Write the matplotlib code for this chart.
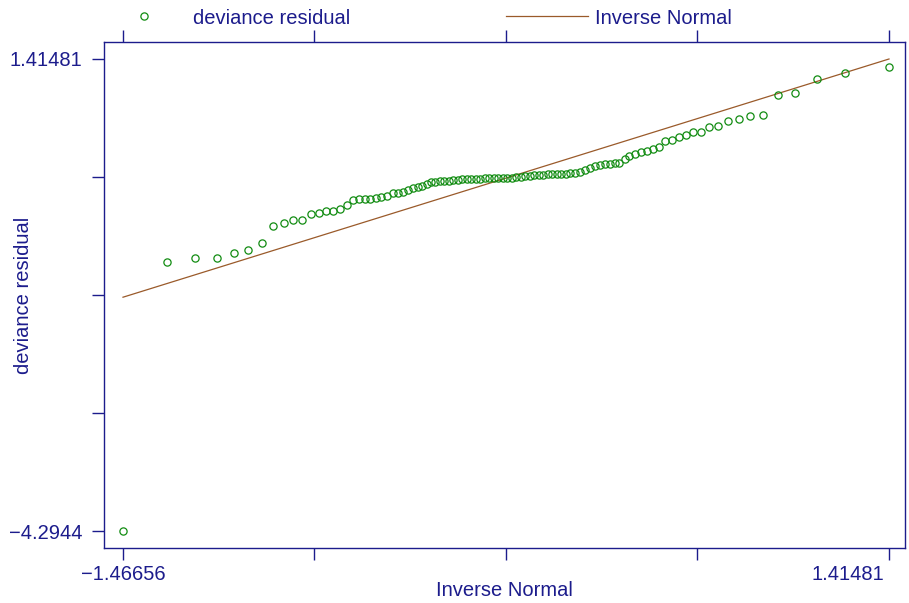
import matplotlib
matplotlib.use("Agg")
import matplotlib.pyplot as plt
from matplotlib import transforms

plt.rcParams['font.family'] = ['Liberation Sans', 'DejaVu Sans']

# Inverse normal quantiles (x) and sorted deviance residuals (y)
inv_normal = [
    -1.4666, -1.3011, -1.1946, -1.1141, -1.0490, -0.9945, -0.9448, -0.9016, -0.8621, -0.8252,
    -0.7921, -0.7605, -0.7304, -0.7022, -0.6759, -0.6503, -0.6251, -0.6014, -0.5789, -0.5563,
    -0.5356, -0.5149, -0.4942, -0.4735, -0.4521, -0.4322, -0.4134, -0.3934, -0.3757, -0.3577,
    -0.3408, -0.3239, -0.3081, -0.2911, -0.2742, -0.2573, -0.2404, -0.2234, -0.2065, -0.1896,
    -0.1726, -0.1557, -0.1388, -0.1219, -0.1049, -0.0880, -0.0711, -0.0541, -0.0372, -0.0203,
    -0.0034, 0.0136, 0.0305, 0.0474, 0.0644, 0.0813, 0.0982, 0.1152, 0.1321, 0.1490,
    0.1659, 0.1829, 0.1998, 0.2167, 0.2336, 0.2524, 0.2712, 0.2900, 0.3089, 0.3288,
    0.3476, 0.3653, 0.3830, 0.4003, 0.4206, 0.4379, 0.4593, 0.4807, 0.5033, 0.5259,
    0.5485, 0.5733, 0.5974, 0.6248, 0.6512, 0.6786, 0.7076, 0.7388, 0.7727, 0.8099,
    0.8494, 0.8927, 0.9419, 0.9983, 1.0612, 1.1428, 1.2493, 1.4148,
]
deviance_residual = [
    -4.2944, -1.0443, -0.9923, -0.9863, -0.9282, -0.8955, -0.8145, -0.6089, -0.5714, -0.5351,
    -0.5302, -0.4601, -0.4516, -0.4298, -0.4238, -0.4020, -0.3512, -0.2907, -0.2786, -0.2786,
    -0.2726, -0.2665, -0.2581, -0.2387, -0.2085, -0.2024, -0.1915, -0.1698, -0.1516, -0.1371,
    -0.1250, -0.0972, -0.0730, -0.0670, -0.0633, -0.0585, -0.0573, -0.0512, -0.0440, -0.0416,
    -0.0403, -0.0367, -0.0343, -0.0319, -0.0295, -0.0282, -0.0282, -0.0258, -0.0246, -0.0222,
    -0.0186, -0.0149, -0.0089, -0.0053, 0.0020, 0.0068, 0.0117, 0.0153, 0.0189, 0.0225,
    0.0238, 0.0238, 0.0274, 0.0322, 0.0359, 0.0480, 0.0721, 0.0927, 0.1169, 0.1290,
    0.1411, 0.1447, 0.1532, 0.1604, 0.2016, 0.2415, 0.2621, 0.2862, 0.3056, 0.3298,
    0.3540, 0.4229, 0.4350, 0.4713, 0.4895, 0.5282, 0.5282, 0.5886, 0.6068, 0.6673,
    0.6866, 0.7290, 0.7350, 0.9733, 0.9975, 1.1693, 1.2491, 1.3120,
]
line_x = [-1.46656, 1.41481]
line_y = [-1.46656, 1.41481]

x_ticks = [-1.46656, -0.74622, -0.02588, 0.69447, 1.41481]
x_ticklabels = ['\u22121.46656', '', '', '', '1.41481']
y_ticks = [-4.2944, -2.8671, -1.4398, -0.0125, 1.41481]
y_ticklabels = ['\u22124.2944', '', '', '', '1.41481']

navy = '#1c1c8c'
green = '#128c12'
brown = '#9a5a2a'
fs = 14.5

fig = plt.figure(figsize=(9.09, 6.03), dpi=100)
ax = fig.add_axes([104/909, 1-548/603, (905-104)/909, (548-42)/603])

sc, = ax.plot(inv_normal, deviance_residual, linestyle='none', marker='o', markersize=5.2,
              markerfacecolor='none', markeredgecolor=green, markeredgewidth=0.9,
              label='deviance residual', zorder=3)
ln, = ax.plot(line_x, line_y, color=brown, linewidth=0.9, label='Inverse Normal', zorder=2)

ax.set_xlim(-1.5380, 1.4750)
ax.set_ylim(-4.5000, 1.6204)

ax.set_xticks(x_ticks)
ax.set_xticklabels(x_ticklabels)
ax.set_yticks(y_ticks)
ax.set_yticklabels(y_ticklabels)

for s in ax.spines.values():
    s.set_color(navy)
    s.set_linewidth(1.0)

ax.tick_params(axis='x', which='both', direction='out', length=8.5, width=1.0, color=navy,
               labelcolor=navy, labelsize=fs, top=True, labeltop=False, pad=4)
ax.tick_params(axis='y', which='both', direction='out', length=8.5, width=1.0, color=navy,
               labelcolor=navy, labelsize=fs, right=False, pad=7)

# shift the right-most x tick label so it stays inside the figure
lbls = ax.get_xticklabels()
lbls[-1].set_horizontalalignment('right')
lbls[-1].set_transform(lbls[-1].get_transform() +
                       transforms.ScaledTranslation(-5/100, 0, fig.dpi_scale_trans))

ax.set_xlabel('Inverse Normal', color=navy, fontsize=fs)
ax.set_ylabel('deviance residual', color=navy, fontsize=fs)
ax.xaxis.set_label_coords(0.5, (548-581)/506)
ax.yaxis.set_label_coords((33-104)/801, 0.5)

leg = ax.legend(handles=[sc, ln], ncol=2, loc='center left',
                bbox_to_anchor=(103.5/909, 1-18/603), bbox_transform=fig.transFigure,
                frameon=False, fontsize=fs, handlelength=4.05, handletextpad=0.38,
                columnspacing=7.75, borderpad=0, borderaxespad=0)
for t in leg.get_texts():
    t.set_color(navy)

fig.savefig('out.png', dpi=100)
